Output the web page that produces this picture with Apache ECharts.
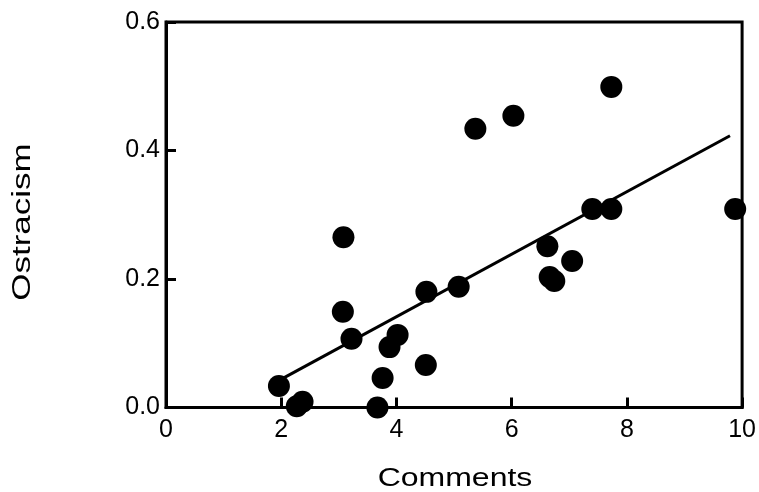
<!DOCTYPE html>
<html>
<head>
<meta charset="utf-8">
<script src="https://cdn.jsdelivr.net/npm/echarts@6/dist/echarts.min.js"></script>
<style>html,body{margin:0;padding:0;background:#fff;}#c{width:759px;height:492px;}</style>
</head>
<body>
<div id="c"></div>
<script>
var commentsX = [1.96, 2.27, 2.37, 3.08, 3.07, 3.22, 3.67, 3.76, 3.88, 4.02, 4.51, 4.52, 5.08, 5.37, 6.03, 6.62, 6.66, 6.74, 7.05, 7.40, 7.73, 7.73, 9.88];
var ostracismY = [0.0335, 0.002, 0.009, 0.265, 0.149, 0.107, 0.0, 0.046, 0.094, 0.113, 0.066, 0.180, 0.188, 0.434, 0.454, 0.251, 0.203, 0.197, 0.228, 0.309, 0.309, 0.499, 0.309];
var fitX = [1.98, 9.79];
var fitY = [0.043, 0.423];
var xTicks = [0, 2, 4, 6, 8, 10];
var yTicks = [0.0, 0.2, 0.4, 0.6];
var xTitle = 'Comments';
var yTitle = 'Ostracism';

var pts = commentsX.map(function (x, i) { return [x, ostracismY[i]]; });
var fit = fitX.map(function (x, i) { return [x, fitY[i]]; });
var font = '"Liberation Sans", Arial, sans-serif';

var chart = echarts.init(document.getElementById('c'), null, {renderer: 'canvas'});
chart.setOption({
  animation: false,
  backgroundColor: '#ffffff',
  grid: {left: 166, right: 16, top: 22, bottom: 84.5, show: true, borderColor: '#000', borderWidth: 3, backgroundColor: 'transparent'},
  graphic: [
    {type: 'text', x: 455, y: 479, scaleX: 1.28, z: 10,
      style: {text: xTitle, fontFamily: font, fontSize: 25, fill: '#000', textAlign: 'center', textVerticalAlign: 'middle'}},
    {type: 'text', x: 23, y: 222, rotation: Math.PI / 2, scaleX: 1.4, z: 10,
      style: {text: yTitle, fontFamily: font, fontSize: 25, fill: '#000', textAlign: 'center', textVerticalAlign: 'middle'}}
  ],
  xAxis: {
    type: 'value', min: xTicks[0], max: xTicks[xTicks.length - 1], interval: 2,
    axisLine: {show: true, onZero: false, lineStyle: {color: '#000', width: 3}},
    axisTick: {show: true, inside: true, length: 10, lineStyle: {color: '#000', width: 3}},
    axisLabel: {fontFamily: font, fontSize: 25, color: '#000', margin: 10},
    splitLine: {show: false}
  },
  yAxis: {
    type: 'value', min: yTicks[0], max: yTicks[yTicks.length - 1], interval: 0.2,
    axisLine: {show: true, onZero: false, lineStyle: {color: '#000', width: 3}},
    axisTick: {show: true, inside: true, length: 10, lineStyle: {color: '#000', width: 3}},
    axisLabel: {fontFamily: font, fontSize: 25, color: '#000', margin: 6, formatter: function (v) { return v.toFixed(1); }},
    splitLine: {show: false}
  },
  series: [
    {type: 'line', data: fit, symbol: 'none', lineStyle: {color: '#000', width: 3}, z: 2},
    {type: 'scatter', data: pts, symbol: 'circle', symbolSize: 22, itemStyle: {color: '#000', opacity: 1}, z: 3}
  ]
});
</script>
</body>
</html>
